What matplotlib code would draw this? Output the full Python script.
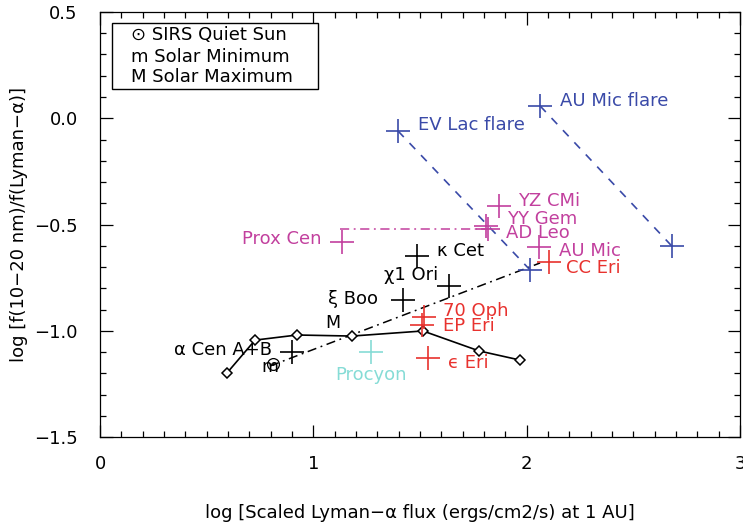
import matplotlib
matplotlib.use("Agg")
import matplotlib.pyplot as plt
from matplotlib.ticker import MultipleLocator, FuncFormatter
from matplotlib.patches import Rectangle

plt.rcParams['font.family'] = ['DejaVu Sans']

BLUE = '#3a4aa8'
MAGENTA = '#c2409e'
RED = '#e8322e'
CYAN = '#86dcd6'

# Stars: log scaled Lyman-alpha flux, log EUV/Lyman-alpha ratio
black_names = ['α Cen A+B', 'κ Cet', 'χ1 Ori', 'ξ Boo']
black_x = [0.90, 1.486, 1.636, 1.42]
black_y = [-1.10, -0.648, -0.789, -0.855]

red_names = ['70 Oph', 'EP Eri', 'ϵ Eri', 'CC Eri']
red_x = [1.519, 1.51, 1.538, 2.105]
red_y = [-0.935, -0.973, -1.128, -0.676]

mag_names = ['Prox Cen', 'YZ CMi', 'YY Gem', 'AD Leo', 'AU Mic']
mag_x = [1.135, 1.87, 1.808, 1.82, 2.058]
mag_y = [-0.582, -0.413, -0.508, -0.522, -0.606]

procyon_x, procyon_y = 1.27, -1.10

# Flare and quiescent states
evlac_x = [1.397, 2.016]
evlac_y = [-0.06, -0.714]
aumic_x = [2.063, 2.68]
aumic_y = [0.058, -0.601]

# Solar curve (diamonds)
sun_x = [0.595, 0.727, 0.924, 1.181, 1.514, 1.777, 1.969]
sun_y = [-1.199, -1.044, -1.02, -1.025, -1.001, -1.095, -1.138]

sirs_x, sirs_y = 0.811, -1.156
solmin_x, solmin_y = 0.797, -1.17
solmax_x, solmax_y = 1.092, -0.964

# Reference lines
fit_x = [0.797, 2.063]
fit_y = [-1.166, -0.681]
mdwarf_x = [1.125, 1.814]
mdwarf_y = [-0.521, -0.521]

fig = plt.figure(figsize=(7.43, 5.30), dpi=100)
ax = fig.add_axes([100 / 743, 1 - 437 / 530, 640 / 743, 425 / 530])

cross = dict(marker='+', markersize=17, markeredgewidth=1.2, linestyle='none')

ax.plot(fit_x, fit_y, color='black', lw=1.1, dashes=[6, 3, 1.2, 3])
ax.plot(mdwarf_x, mdwarf_y, color=MAGENTA, lw=1.1, dashes=[6, 3, 1.2, 3])
ax.plot(evlac_x, evlac_y, color=BLUE, lw=1.2, dashes=[5, 5])
ax.plot(aumic_x, aumic_y, color=BLUE, lw=1.2, dashes=[5, 5])

ax.plot(sun_x, sun_y, color='black', lw=1.2, marker='D', markersize=5.5,
        markerfacecolor='white', markeredgewidth=1.1)

ax.plot(black_x, black_y, color='black', **cross)
ax.plot(red_x, red_y, color=RED, **cross)
ax.plot(mag_x, mag_y, color=MAGENTA, **cross)
ax.plot([procyon_x], [procyon_y], color=CYAN, **cross)
ax.plot(evlac_x, evlac_y, color=BLUE, **cross)
ax.plot(aumic_x, aumic_y, color=BLUE, **cross)

# Sun symbol and solar min/max letters
ax.plot([sirs_x], [sirs_y], marker='o', markersize=8.5, markerfacecolor='none',
        markeredgecolor='black', markeredgewidth=0.9, linestyle='none')
ax.plot([sirs_x], [sirs_y], marker='.', markersize=2, color='black', linestyle='none')
ax.text(solmin_x, solmin_y, 'm', fontsize=12.5, ha='center', va='center')
ax.text(solmax_x, solmax_y, 'M', fontsize=12.5, ha='center', va='center')

fs = 13
lab = dict(fontsize=fs, va='center')
ax.text(0.806, -1.091, black_names[0], ha='right', **lab)
ax.text(1.58, -0.625, black_names[1], ha='left', **lab)
ax.text(1.331, -0.738, black_names[2], ha='left', **lab)
ax.text(1.069, -0.851, black_names[3], ha='left', **lab)

ax.text(1.608, -0.907, red_names[0], color=RED, ha='left', **lab)
ax.text(1.608, -0.978, red_names[1], color=RED, ha='left', **lab)
ax.text(1.631, -1.152, red_names[2], color=RED, ha='left', **lab)
ax.text(2.185, -0.705, red_names[3], color=RED, ha='left', **lab)

ax.text(1.036, -0.568, mag_names[0], color=MAGENTA, ha='right', **lab)
ax.text(1.96, -0.389, mag_names[1], color=MAGENTA, ha='left', **lab)
ax.text(1.908, -0.474, mag_names[2], color=MAGENTA, ha='left', **lab)
ax.text(1.903, -0.54, mag_names[3], color=MAGENTA, ha='left', **lab)
ax.text(2.152, -0.625, mag_names[4], color=MAGENTA, ha='left', **lab)

ax.text(procyon_x, -1.208, 'Procyon', color=CYAN, ha='center', **lab)
ax.text(1.491, -0.032, 'EV Lac flare', color=BLUE, ha='left', **lab)
ax.text(2.157, 0.081, 'AU Mic flare', color=BLUE, ha='left', **lab)

# Key box
ax.add_patch(Rectangle((0.056, 0.138), 0.966, 0.310, facecolor='white',
                       edgecolor='black', lw=1.0, zorder=3))
key_lines = ['⊙ SIRS Quiet Sun', 'm Solar Minimum', 'M Solar Maximum']
key_y = [0.392, 0.289, 0.195]
for t, yy in zip(key_lines, key_y):
    ax.text(0.145, yy, t, fontsize=fs, ha='left', va='center', zorder=4)

ax.set_xlim(0, 3)
ax.set_ylim(-1.5, 0.5)
ax.xaxis.set_major_locator(MultipleLocator(1))
ax.xaxis.set_minor_locator(MultipleLocator(0.1))
ax.yaxis.set_major_locator(MultipleLocator(0.5))
ax.yaxis.set_minor_locator(MultipleLocator(0.1))
ax.xaxis.set_major_formatter(FuncFormatter(lambda v, p: f'{v:.0f}'))
ax.yaxis.set_major_formatter(FuncFormatter(lambda v, p: f'{v:.1f}'.replace('-', '−')))
ax.tick_params(which='both', direction='in', top=True, right=True, labelsize=fs, width=0.9)
ax.tick_params(which='major', length=9)
ax.tick_params(which='minor', length=4.5)
ax.tick_params(axis='x', which='major', pad=13)
ax.tick_params(axis='y', which='major', pad=16)
for s in ax.spines.values():
    s.set_linewidth(0.9)

ax.set_xlabel('log [Scaled Lyman−α flux (ergs/cm2/s) at 1 AU]', fontsize=fs, labelpad=22)
ax.set_ylabel('log [f(10−20 nm)/f(Lyman−α)]', fontsize=fs, labelpad=4)

fig.savefig('out.png', dpi=100)
